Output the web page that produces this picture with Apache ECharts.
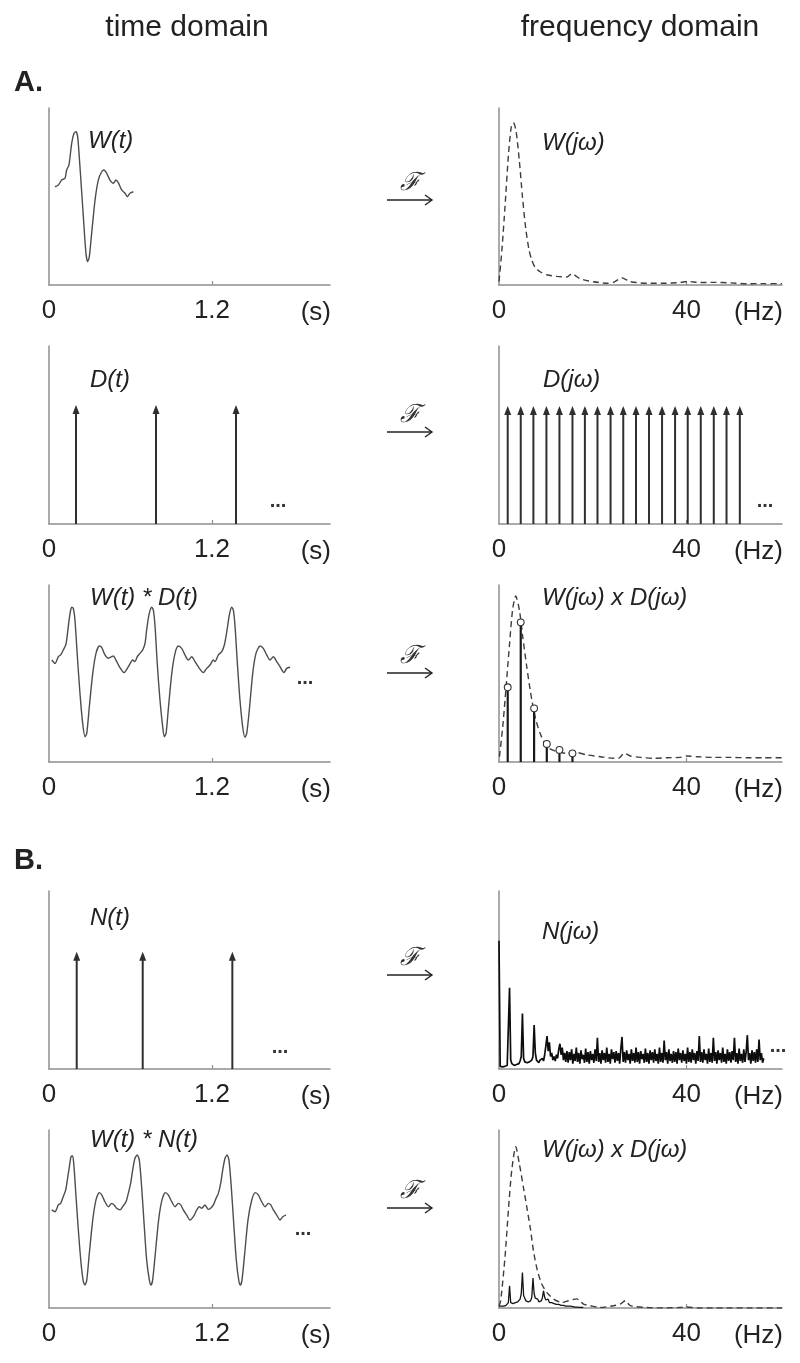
<!DOCTYPE html>
<html><head><meta charset="utf-8">
<script src="https://cdn.jsdelivr.net/npm/echarts@6/dist/echarts.min.js"></script>
<style>html,body{margin:0;padding:0;background:#fff}#c{width:800px;height:1363px}</style>
</head><body><div id="c"></div>
<script>
// ---------- data (time in s, frequency in Hz, amplitude in arbitrary units 0..10) ----------
const timeTicks = [0, 1.2];
const freqTicks = [0, 40];

const wavelet_t = [[0.044,5.55],[0.069,5.65],[0.093,5.93],[0.118,6.03],[0.130,6.50],[0.147,6.78],[0.167,8.00],[0.184,8.57],[0.199,8.66],[0.211,8.38],[0.228,6.68],[0.253,3.86],[0.272,1.79],[0.285,1.32],[0.297,1.60],[0.314,2.92],[0.339,4.80],[0.363,5.93],[0.388,6.40],[0.405,6.50],[0.425,6.31],[0.449,5.93],[0.474,5.75],[0.493,5.93],[0.510,5.78],[0.535,5.37],[0.560,5.18],[0.577,4.99],[0.596,5.18],[0.621,5.27]];

const wavelet_f = [[0,0.2],[0.6,1.9],[1.3,4.5],[2.0,7.3],[2.6,8.9],[3.07,9.17],[3.64,8.7],[4.35,7.0],[5.0,5.0],[5.7,3.2],[6.4,2.0],[7.0,1.4],[7.7,1.0],[8.77,0.75],[10.2,0.58],[12.34,0.49],[14.48,0.45],[15.55,0.64],[17.33,0.35],[20.18,0.18],[23.04,0.10],[24.45,0.15],[26.24,0.40],[28.02,0.19],[31.59,0.10],[35.15,0.10],[38.72,0.14],[40.14,0.20],[42.99,0.14],[45.84,0.15],[49.41,0.12],[52.98,0.07],[56.54,0.08],[60.4,0.08]];

const dirac_t = [0.199, 0.788, 1.377];
const dirac_t_height = 6.69;

const dirac_f = [1.86,4.64,7.34,10.12,12.90,15.68,18.33,21.02,23.81,26.52,29.24,32.02,34.80,37.58,40.28,43.06,45.84,48.56,51.40];
const dirac_f_height = 6.63;

const conv_D_t = [[0.020,5.76],[0.044,5.57],[0.069,5.95],[0.086,6.05],[0.105,6.33],[0.123,6.61],[0.130,6.89],[0.142,7.65],[0.155,8.40],[0.167,8.74],[0.179,8.68],[0.191,8.02],[0.209,5.95],[0.228,3.88],[0.248,2.18],[0.265,1.43],[0.278,1.62],[0.297,3.13],[0.322,5.01],[0.346,6.14],[0.371,6.55],[0.388,6.48],[0.412,6.05],[0.437,5.86],[0.462,5.95],[0.474,5.99],[0.493,5.76],[0.518,5.39],[0.552,5.05],[0.577,5.29],[0.596,5.54],[0.616,5.76],[0.633,5.67],[0.650,5.95],[0.670,6.14],[0.690,6.33],[0.707,6.70],[0.719,7.46],[0.736,8.31],[0.756,8.74],[0.768,8.59],[0.781,7.65],[0.797,5.57],[0.817,3.50],[0.837,1.99],[0.849,1.43],[0.862,1.62],[0.878,2.94],[0.904,5.01],[0.928,6.14],[0.952,6.55],[0.977,6.42],[1.001,6.05],[1.026,5.76],[1.051,5.95],[1.075,5.67],[1.107,5.29],[1.136,5.05],[1.161,5.29],[1.186,5.48],[1.210,5.76],[1.222,5.67],[1.247,6.05],[1.272,6.23],[1.291,6.61],[1.309,7.36],[1.328,8.31],[1.345,8.74],[1.357,8.59],[1.370,7.65],[1.387,5.57],[1.406,3.50],[1.426,1.99],[1.443,1.39],[1.456,1.62],[1.475,2.94],[1.500,5.01],[1.524,6.14],[1.554,6.55],[1.578,6.42],[1.603,6.05],[1.627,5.76],[1.652,5.95],[1.677,5.67],[1.701,5.39],[1.730,5.05],[1.750,5.29],[1.775,5.35]];

const envelope_f3 = [[0.1,0.3],[0.8,2.0],[1.5,4.2],[2.2,6.5],[2.9,8.6],[3.57,9.38],[4.35,8.59],[5.06,7.08],[5.92,5.39],[6.77,3.88],[7.70,2.56],[8.77,1.62],[10.20,0.87],[12.34,0.58],[14.48,0.49],[16.62,0.53],[18.75,0.40],[21.6,0.30],[24.45,0.21],[25.52,0.21],[26.74,0.49],[28.02,0.34],[30.16,0.26],[33.0,0.21],[35.87,0.24],[38.72,0.26],[40.14,0.34],[42.28,0.30],[45.84,0.26],[49.41,0.26],[52.98,0.24],[56.54,0.24],[60.4,0.24]];

const sampled_f = [[1.86,4.22],[4.64,7.89],[7.49,3.03],[10.2,1.02],[12.9,0.68],[15.68,0.49]];

const noise_t = [0.204, 0.690, 1.350];
const noise_t_height = 6.59;

const noiseStep = 0.25; // Hz between spectrum samples
const noise_f = [7.2,0.15,0.1,0.12,0.1,0.15,0.12,0.2,0.3,4.57,0.5,0.3,0.25,0.2,0.3,0.25,0.35,0.3,0.45,0.7,3.11,0.6,0.4,0.3,0.35,0.3,0.4,0.35,0.5,0.7,2.47,0.9,0.5,0.6,0.35,0.5,0.4,0.6,0.45,0.8,1.3,1.85,1.0,1.5,0.7,0.9,0.5,0.7,0.45,0.8,0.6,1.1,1.42,0.8,1.2,0.5,0.9,0.4,1.0,
0.35,0.95,0.5,1.1,0.3,0.85,0.45,1.2,0.4,0.9,0.3,1.05,0.55,0.8,0.35,1.15,0.4,0.95,0.3,1.0,0.5,0.85,0.35,1.1,0.45,1.75,0.4,0.9,0.3,1.05,0.5,0.9,0.35,1.2,0.4,0.85,0.3,1.1,0.55,0.95,0.35,1.0,0.45,0.9,0.3,1.15,1.8,0.4,0.95,0.35,1.05,0.5,0.85,0.3,1.1,0.45,0.9,0.35,1.2,0.4,0.95,0.3,1.0,0.55,0.85,0.35,1.15,0.4,0.9,0.3,1.05,0.5,0.95,0.35,1.1,0.45,0.85,0.3,1.2,0.4,0.9,0.35,1.6,0.5,0.95,0.3,1.1,0.45,0.85,0.35,1.0,0.4,0.95,0.3,1.15,0.5,0.9,0.35,1.05,0.45,0.85,0.3,1.2,0.4,0.95,0.35,1.1,0.5,0.9,0.3,1.0,0.45,1.85,0.4,0.95,0.35,1.1,0.5,0.85,0.3,1.15,0.4,0.9,0.35,1.75,0.45,0.95,0.3,1.05,0.5,0.9,0.35,1.2,0.4,0.85,0.3,1.1,0.45,0.95,0.35,1.0,0.5,1.75,0.4,0.9,0.3,1.15,0.45,0.85,0.35,1.1,0.4,0.95,1.9,0.5,0.9,0.3,1.05,0.45,0.95,0.35,1.1,0.4,1.65,0.5,0.9,0.35,0.6];

const conv_N_t = [[0.020,5.51],[0.044,5.41],[0.069,5.79],[0.086,5.88],[0.105,6.25],[0.123,6.63],[0.135,7.19],[0.150,7.94],[0.162,8.50],[0.174,8.54],[0.184,7.94],[0.199,6.25],[0.216,4.38],[0.236,2.51],[0.253,1.48],[0.265,1.29],[0.278,1.57],[0.297,3.07],[0.322,4.94],[0.346,6.07],[0.371,6.48],[0.388,6.35],[0.412,5.97],[0.437,5.69],[0.462,5.88],[0.479,5.79],[0.498,5.60],[0.523,5.51],[0.542,5.69],[0.567,5.97],[0.584,6.44],[0.601,7.00],[0.616,7.75],[0.633,8.41],[0.650,8.60],[0.665,8.31],[0.682,6.82],[0.700,4.76],[0.719,2.70],[0.739,1.57],[0.751,1.29],[0.763,1.57],[0.783,3.07],[0.807,4.94],[0.832,6.07],[0.857,6.48],[0.878,6.35],[0.904,5.97],[0.928,5.69],[0.952,5.88],[0.970,5.79],[0.989,5.51],[1.014,5.22],[1.038,4.94],[1.063,5.13],[1.088,5.51],[1.107,5.69],[1.124,5.60],[1.149,5.79],[1.173,5.54],[1.190,5.60],[1.210,5.79],[1.230,6.16],[1.247,6.44],[1.264,7.00],[1.279,7.75],[1.296,8.41],[1.311,8.60],[1.325,8.31],[1.342,6.82],[1.360,4.76],[1.379,2.70],[1.397,1.57],[1.409,1.29],[1.421,1.57],[1.441,3.07],[1.465,4.94],[1.493,6.07],[1.519,6.48],[1.541,6.35],[1.566,5.97],[1.591,5.69],[1.615,5.88],[1.633,5.79],[1.652,5.51],[1.677,5.22],[1.701,4.94],[1.721,5.13],[1.745,5.22]];

const conv_N_f = [0.1,0.12,0.1,0.15,0.1,0.12,0.15,0.2,0.3,1.25,0.3,0.2,0.25,0.2,0.3,0.25,0.35,0.3,0.5,0.8,1.99,0.7,0.55,0.4,0.5,0.35,0.45,0.4,0.6,1.68,0.8,0.55,0.45,0.5,0.35,0.45,0.4,0.55,0.97,0.6,0.45,0.4,0.5,0.3,0.4,0.3,0.35,0.25,0.3,0.2,0.3,0.2,0.25,0.15,0.25,0.15,0.2,0.1,0.2,0.1,0.15,0.1,0.12,0.08,0.1,0.05,0.08,0.05,0.06,0.04,0.05,0.03,0.04];

const envelope_f5 = [[0,0.1],[0.36,0.41],[1.28,2.85],[2.0,5.47],[2.71,7.71],[3.57,9.06],[4.35,8.09],[5.21,6.78],[6.06,5.47],[6.77,4.34],[7.34,3.22],[8.20,2.10],[9.12,1.35],[10.20,0.88],[11.62,0.51],[13.41,0.31],[14.83,0.41],[16.62,0.51],[18.04,0.22],[19.47,0.13],[21.6,0.03],[24.45,0.13],[25.88,0.22],[26.95,0.41],[28.02,0.13],[31.59,0.03],[35.15,0.0],[38.72,0.03],[40.14,0.06],[42.28,0.0],[45.84,0.0],[49.41,0.0],[52.98,0.0],[60.4,0.0]];

// ---------- layout ----------
const T_MAX = 2.069, F_MAX = 60.4;
const rows = [ {top:108,h:177}, {top:346,h:178}, {top:585,h:177}, {top:891,h:178}, {top:1130,h:178} ];
const AX = '#8e8e8e', INK = '#222';
const grids = [], xAxes = [], yAxes = [];
rows.forEach((r) => {
  grids.push({left:49, top:r.top, width:281, height:r.h});
  grids.push({left:499, top:r.top, width:283, height:r.h});
});
grids.forEach((g, i) => {
  const isTime = i % 2 === 0;
  xAxes.push({
    gridIndex:i, type:'value', min:0, max: isTime ? T_MAX : F_MAX,
    axisLine:{show:true, lineStyle:{color:AX, width:1.5}},
    axisTick:{show:true, inside:true, length:4, customValues: isTime ? [timeTicks[1]] : [freqTicks[1]], lineStyle:{color:AX, width:1.2}},
    axisLabel:{show:true, customValues: isTime ? timeTicks : freqTicks, margin:13, color:INK, fontSize:26, fontFamily:'Liberation Sans',
      formatter:(v)=> String(v)},
    splitLine:{show:false}
  });
  yAxes.push({
    gridIndex:i, type:'value', min:0, max:10,
    axisLine:{show:true, onZero:false, lineStyle:{color:AX, width:1.5}},
    axisTick:{show:false}, axisLabel:{show:false}, splitLine:{show:false}
  });
});

function arrowItem(color){
  return function(params, api){
    const x = api.value(0), h = api.value(1);
    const p0 = api.coord([x, 0]), p1 = api.coord([x, h]);
    return {type:'group', children:[
      {type:'line', shape:{x1:p0[0], y1:p0[1], x2:p1[0], y2:p1[1]+6}, style:{stroke:color, lineWidth:2}},
      {type:'polygon', shape:{points:[[p1[0], p1[1]],[p1[0]-3.5, p1[1]+9],[p1[0]+3.5, p1[1]+9]]}, style:{fill:color}}
    ]};
  };
}
function stemItem(params, api){
  const x = api.value(0), h = api.value(1);
  const p0 = api.coord([x, 0]), p1 = api.coord([x, h]);
  return {type:'group', children:[
    {type:'line', shape:{x1:p0[0], y1:p0[1], x2:p1[0], y2:p1[1]+3}, style:{stroke:'#1a1a1a', lineWidth:2.2}},
    {type:'circle', shape:{cx:p1[0], cy:p1[1], r:3.4}, style:{fill:'#fff', stroke:'#333', lineWidth:1.1}}
  ]};
}
const traceStyle = {color:'#4d4d4d', width:1.4};
const dashStyle = {color:'#3d3d3d', width:1.4, type:[6,4]};
function lineSeries(idx, data, style, z){
  return {type:'line', xAxisIndex:idx, yAxisIndex:idx, data, showSymbol:false, symbol:'none',
    lineStyle:style, smooth:0.25, z:z||2, silent:true};
}
function rawLine(idx, data, style, z){
  return {type:'line', xAxisIndex:idx, yAxisIndex:idx, data, showSymbol:false, symbol:'none',
    lineStyle:style, z:z||2, silent:true, sampling:null};
}
const series = [
  lineSeries(0, wavelet_t, traceStyle),
  lineSeries(1, wavelet_f, dashStyle),
  {type:'custom', xAxisIndex:2, yAxisIndex:2, data: dirac_t.map(t=>[t, dirac_t_height]), renderItem: arrowItem('#2f2f2f'), silent:true},
  {type:'custom', xAxisIndex:3, yAxisIndex:3, data: dirac_f.map(f=>[f, dirac_f_height]), renderItem: arrowItem('#2f2f2f'), silent:true},
  lineSeries(4, conv_D_t, traceStyle),
  lineSeries(5, envelope_f3, dashStyle),
  {type:'custom', xAxisIndex:5, yAxisIndex:5, data: sampled_f, renderItem: stemItem, silent:true, z:3},
  {type:'custom', xAxisIndex:6, yAxisIndex:6, data: noise_t.map(t=>[t, noise_t_height]), renderItem: arrowItem('#2f2f2f'), silent:true},
  rawLine(7, noise_f.map((v,i)=>[i*noiseStep, v]), {color:'#0d0d0d', width:1.7}),
  lineSeries(8, conv_N_t, traceStyle),
  rawLine(9, conv_N_f.map((v,i)=>[i*noiseStep, v]), {color:'#141414', width:1.3}),
  lineSeries(9, envelope_f5, dashStyle, 3)
];

// ---------- decorations ----------
const FONT = '"Liberation Sans", Arial, sans-serif';
const graphic = [];
function txt(t, x, y, font, align, va, fill){
  graphic.push({type:'text', x, y, silent:true, style:{text:t, font, fill:fill||INK, align:align||'left', verticalAlign:va||'middle'}});
}
txt('time domain', 187, 28, '30px '+FONT, 'center');
txt('frequency domain', 640, 28, '30px '+FONT, 'center');
txt('A.', 14, 83, 'bold 29px '+FONT, 'left');
txt('B.', 14, 861, 'bold 29px '+FONT, 'left');
const labels = [
  ['W(t)', 88, 141], ['W(jω)', 542, 143], ['D(t)', 90, 380], ['D(jω)', 543, 380],
  ['W(t) * D(t)', 90, 598], ['W(jω) x D(jω)', 542, 598], ['N(t)', 90, 918], ['N(jω)', 542, 932],
  ['W(t) * N(t)', 90, 1140], ['W(jω) x D(jω)', 542, 1150]
];
labels.forEach(l => txt(l[0], l[1], l[2], 'italic 24px '+FONT, 'left'));
const axisY = [285, 524, 762, 1069, 1308];
axisY.forEach(y => { txt('(s)', 331, y+28, '26px '+FONT, 'right'); txt('(Hz)', 783, y+28, '26px '+FONT, 'right'); });
const dots = [[278,507],[765,507],[305,684],[280,1053],[778,1052],[303,1235]];
dots.forEach(d => txt('...', d[0], d[1]-6, 'bold 20px '+FONT, 'center', 'middle', '#333'));
const fArrows = [200, 432, 673, 975, 1208];
fArrows.forEach(y => {
  graphic.push({type:'line', silent:true, shape:{x1:387, y1:y, x2:432, y2:y}, style:{stroke:'#222', lineWidth:1.4}});
  graphic.push({type:'polyline', silent:true, shape:{points:[[425,y-5],[432,y],[425,y+5]]}, style:{stroke:'#222', lineWidth:1.4, fill:null}});
  txt('ℱ', 410, y-17, 'italic 25px "DejaVu Serif", serif', 'center', 'middle', '#333');
});

const chart = echarts.init(document.getElementById('c'), null, {renderer:'canvas'});
chart.setOption({animation:false, backgroundColor:'#fff', grid:grids, xAxis:xAxes, yAxis:yAxes, series, graphic});
</script></body></html>
